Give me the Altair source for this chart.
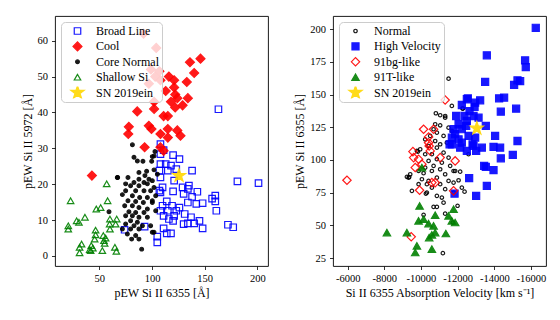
import altair as alt
import pandas as pd

# ---------------- Left panel data ----------------
BL_X = [163,108,108,111,120,126,113,118,107,115,123,138,108,121,181,201,110,129,135,134,107,120,143,130,138,108,157,160,160,114,134,142,148,110,119,126,161,108,115,123,111,121,131,137,116,120,145,134,140,130,172,177,148,111,93,74,114,118,105,105,108]
BL_Y = [40.9,31.2,28.4,29.5,28.1,27.0,25.6,25.2,23.8,23.8,24.2,23.8,21.9,21.0,20.8,20.3,19.1,19.1,19.6,18.7,18.2,18.0,17.9,17.3,16.5,17.7,16.0,16.8,15.2,15.2,14.9,14.5,14.7,14.0,14.0,13.5,12.6,12.6,12.6,12.6,11.2,11.2,11.7,10.8,10.3,9.8,9.8,9.1,9.1,8.9,8.7,8.0,7.7,7.7,8.2,7.3,6.3,6.3,5.4,3.8,25.6]

CO_X = [92,104,146,136,140,133,134,116,121,107,97,108,121,122,124,118,102,102,86,122,129,111,115,78,77.5,97,99.5,115,124,127,108,115,93,108,111,43,99,103,113]
CO_Y = [62,58,55,54,51,48.5,44,50,49,51.5,48,49,47,45,44,43,43,41,40.3,41.4,42,39,39,36,34,36.3,35.4,35.4,35,33.5,34,33,30.3,30.3,29.3,22.4,52,50,46]

CN_X = [81.4,101.9,86.1,91.4,99.7,94.9,101.9,67.4,77.2,93.3,87.6,97.1,82.9,92.4,100.3,79.7,87.6,95.6,84.5,92.4,98.7,75,81.4,71.9,88.3,95.6,77.2,84.5,91.8,100.3,74.1,81.4,87.6,95.6,59.2,78.1,84.5,92.4,75,81.4,87.6,95.6,79.7,86.1,75,82.9,90.9,98.7,79.7,87.6,76.6,84.5,101.9,80.7,87.6,90.2,71.9,87.6,75,103.5,103.5,105.1,101.9,100.3,82.9,67.1,102.8,100.3,100.3]
CN_Y = [31.0,27.9,26.5,26.4,26.4,23.6,24.0,21.9,21.9,22.4,21.4,21.4,20.5,20.5,21.0,19.6,19.6,20.1,18.2,18.2,18.2,18.2,16.8,17.1,16.3,16.3,15.4,15.2,14.9,14.9,14.0,14.0,13.5,13.1,12.3,12.3,12.1,12.1,11.2,11.2,10.8,10.8,9.8,9.4,8.9,8.4,8.4,8.4,7.5,7.5,6.1,5.7,6.6,4.7,4.7,1.9,7.5,23.3,20.1,16.8,12.6,22.8,19.1,6.6,27.5,21.9,29.1,27.7,15.4]

SS_X = [57,22.8,57.9,51.3,47.2,36.4,28.5,30.7,60.1,66.5,59.8,65.5,20.6,20.6,46.5,60.1,46.5,53.8,56,45.6,54.4,55.1,33.2,31.3,42.4,40.9,43.9,52.9,31.3,64.8,66.2,41.8]
SS_Y = [20.1,15.4,15.4,13.5,13.1,10.8,9.8,9.4,10.3,10.3,8.9,8.9,8.4,7.5,7.2,7.5,5.9,5.7,5.0,4.7,4.3,3.5,3.3,2.4,2.9,1.8,2.2,1.5,0.9,2.4,1.3,1.5]

SN_L_X = [125.6]
SN_L_Y = [22.4]

# ---------------- Right panel data ----------------
HV_X = [-16262,-13592,-15680,-15717,-13500,-15265,-15410,-15080,-14262,-14535,-13227,-12557,-12229,-12922,-14355,-15190,-11919,-12377,-12867,-13140,-12050,-12464,-11864,-12595,-13537,-14044,-15265,-12813,-11684,-12229,-13957,-14317,-13320,-12502,-15009,-12137,-12627,-13537,-13957,-13592,-13009,-11832,-14355,-12502,-12955,-12649,-12502,-11777,-12229,-11684,-12050,-12955,-11560,-12867,-13009,-13445]
HV_Y = [201.0,180.0,176.1,171.0,159.6,160.9,160.3,157.3,147.1,147.6,145.6,147.1,142.0,140.5,136.9,139.2,133.6,133.6,133.6,132.3,127.3,126.0,119.7,118.4,126.0,118.4,114.5,112.0,112.0,113.2,110.0,109.4,109.4,106.9,103.9,109.4,86.1,94.7,92.2,80.2,72.6,74.3,101.3,146.4,143.8,137.4,129.8,123.5,123.5,117.1,115.8,117.1,112.0,110.7,106.9,95.5]

NO_X = [-12284,-11047,-11319,-10774,-11047,-10687,-11505,-11684,-10867,-10502,-11232,-10229,-10774,-11047,-11412,-10414,-10867,-9957,-9777,-11232,-10594,-10229,-11505,-10867,-10414,-11139,-10687,-10229,-11592,-11047,-10594,-9412,-9325,-10142,-11319,-11777,-10867,-10414,-11505,-11047,-10594,-9505,-10322,-11319,-10867,-11777,-9869,-11684,-11505,-11319,-10812,-12268,-12595,-10142,-10867,-10687,-11232,-11995,-11319,-11739,-11194,-10267,-11139,-11777,-12377,-12229,-12050,-9232,-10322,-11864,-12137,-10050,-9869,-9832,-9357]
NO_Y = [139.2,134.2,132.3,127.3,126.5,123.5,124.7,122.2,120.9,118.4,118.4,115.8,114.5,112.0,113.2,110.7,109.4,108.2,106.9,105.6,104.4,104.4,101.8,100.6,99.3,98.0,95.5,94.2,95.5,92.9,91.6,89.1,86.5,89.9,89.1,91.6,86.5,84.0,84.0,81.5,78.9,76.4,75.1,77.7,72.6,82.7,81.5,141.3,162.1,133.6,135.7,139.5,104.4,58.1,64.2,64.2,67.4,65.0,59.0,52.2,28.8,74.3,71.3,75.1,75.8,78.9,84.5,87.1,81.5,91.6,91.1,85.3,91.6,106.4,87.0]

BG_X = [-5962,-9466,-11319,-10142,-10414,-9559,-10687,-10414,-9597,-9869,-10502,-11047,-11864,-9685,-10774,-9924,-11777,-10447,-10050,-10594]
BG_Y = [84.5,41.3,145.8,123.5,117.6,106.4,123.5,113.2,101.8,100.6,106.9,101.8,99.3,94.2,82.7,76.9,76.4,110.7,96.8,82.7]

TT_X = [-8142,-9232,-9777,-9685,-9924,-9869,-10142,-10414,-10687,-10774,-10774,-10447,-10594,-10594,-11357,-11505,-11684,-11777,-11864,-10050]
TT_Y = [44.5,44.5,34.4,29.3,64.9,53.5,54.8,51.4,49.7,57.8,44.5,40.7,42.8,31.9,43.8,57.3,53.5,62.4,52.2,94.2]

SN_R_X = [-13047]
SN_R_Y = [124.2]

LEFT_GROUPS = ["Broad Line", "Cool", "Core Normal", "Shallow Si", "SN 2019ein"]
RIGHT_GROUPS = ["Normal", "High Velocity", "91bg-like", "91T-like", "SN 2019ein"]

STAR = ("M0,-1L0.2245,-0.309L0.951,-0.309L0.363,0.118L0.588,0.809L0,0.382"
        "L-0.588,0.809L-0.363,0.118L-0.951,-0.309L-0.2245,-0.309Z")
FONT = "Liberation Serif"


def table(groups):
    rows = []
    for name, xs, ys in groups:
        rows += [{"x": a, "y": b, "group": name} for a, b in zip(xs, ys)]
    return pd.DataFrame(rows)


left_df = table([("Broad Line", BL_X, BL_Y), ("Cool", CO_X, CO_Y),
                 ("Core Normal", CN_X, CN_Y), ("Shallow Si", SS_X, SS_Y),
                 ("SN 2019ein", SN_L_X, SN_L_Y)])
right_df = table([("Normal", NO_X, NO_Y), ("High Velocity", HV_X, HV_Y),
                  ("91bg-like", BG_X, BG_Y), ("91T-like", TT_X, TT_Y),
                  ("SN 2019ein", SN_R_X, SN_R_Y)])


def legend():
    return alt.Legend(title=None, orient="none", legendX=6, legendY=6, padding=3,
                      labelFont=FONT, labelFontSize=12, labelColor="black",
                      labelOffset=11, rowPadding=3.4, clipHeight=12, symbolOffset=6,
                      fillColor="rgba(255,255,255,0.8)", strokeColor="#cccccc",
                      cornerRadius=4, symbolStrokeWidth=1.2, symbolOpacity=0.9)


def panel(df, names, shapes, fills, strokes, sizes, xscale, yscale, xaxis, yaxis, xtitle, ytitle):
    return alt.Chart(df).mark_point(opacity=0.9, strokeWidth=1.2).encode(
        x=alt.X("x:Q", scale=xscale, axis=xaxis, title=xtitle),
        y=alt.Y("y:Q", scale=yscale, axis=yaxis, title=ytitle),
        shape=alt.Shape("group:N", scale=alt.Scale(domain=names, range=shapes), legend=legend()),
        fill=alt.Fill("group:N", scale=alt.Scale(domain=names, range=fills), legend=legend()),
        stroke=alt.Stroke("group:N", scale=alt.Scale(domain=names, range=strokes), legend=legend()),
        size=alt.Size("group:N", scale=alt.Scale(type="ordinal", domain=names, range=sizes), legend=legend()),
    ).properties(width=213, height=250)


left = panel(
    left_df, LEFT_GROUPS,
    ["square", "diamond", "circle", "triangle-up", STAR],
    ["transparent", "red", "black", "transparent", "gold"],
    ["blue", "red", "black", "green", "gold"],
    [42, 80, 14, 42, 190],
    alt.Scale(domain=[8, 210], nice=False, zero=False),
    alt.Scale(domain=[-2.8, 66.9], nice=False, zero=False),
    alt.Axis(values=[50, 100, 150, 200]),
    alt.Axis(values=[0, 10, 20, 30, 40, 50, 60]),
    "pEW Si II 6355 [Å]", "pEW Si II 5972 [Å]")

right = panel(
    right_df, RIGHT_GROUPS,
    ["circle", "square", "diamond", "triangle-up", STAR],
    ["transparent", "blue", "transparent", "green", "gold"],
    ["black", "blue", "red", "green", "gold"],
    [12, 50, 70, 55, 190],
    alt.Scale(domain=[-5200, -16820], nice=False, zero=False),
    alt.Scale(domain=[19, 210], nice=False, zero=False),
    alt.Axis(values=[-6000, -8000, -10000, -12000, -14000, -16000],
             labelExpr="'-' + format(abs(datum.value), 'd')"),
    alt.Axis(values=[25, 50, 75, 100, 125, 150, 175, 200]),
    "Si II 6355 Absorption Velocity [km s⁻¹]", "pEW Si II 6355 [Å]")

chart = alt.hconcat(left, right, spacing=24).resolve_scale(
    shape="independent", fill="independent", stroke="independent", size="independent"
).resolve_legend(
    shape="independent", fill="independent", stroke="independent", size="independent"
).properties(
    padding={"left": 12, "top": 7, "right": 5, "bottom": 5}
).configure_view(
    stroke="black", strokeWidth=0.9
).configure_axis(
    grid=False, domain=False, labelFont=FONT, titleFont=FONT,
    labelFontSize=10.5, titleFontSize=12, titleFontWeight="normal",
    labelColor="black", titleColor="black", tickColor="black",
    tickSize=3.5, tickWidth=0.8, labelPadding=4, titlePadding=3
)

chart.save("out.html", embed_options={"renderer": "svg", "actions": False})
